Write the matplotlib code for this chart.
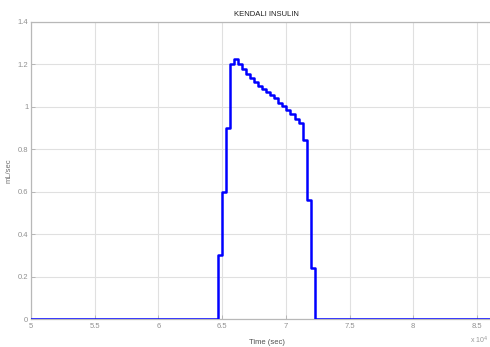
import matplotlib
matplotlib.use("Agg")
import matplotlib.pyplot as plt
import numpy as np

# Insulin infusion rate (mL/sec), zero-order hold samples; time in units of 1e4 s
t_start = 5.0
t_end = 8.7
pulse_start = 6.468
sample_dt = 0.0316
pulse_values = [0.30, 0.60, 0.90, 1.20, 1.225, 1.20, 1.18, 1.155, 1.135, 1.115,
                1.10, 1.085, 1.07, 1.055, 1.04, 1.02, 1.005, 0.985, 0.965, 0.945,
                0.925, 0.845, 0.56, 0.24, 0.0]

x_ticks = [5, 5.5, 6, 6.5, 7, 7.5, 8, 8.5]
x_tick_labels = ["5", "5.5", "6", "6.5", "7", "7.5", "8", "8.5"]
y_ticks = [0, 0.2, 0.4, 0.6, 0.8, 1.0, 1.2, 1.4]
y_tick_labels = ["0", "0.2", "0.4", "0.6", "0.8", "1", "1.2", "1.4"]

pulse_times = pulse_start + sample_dt * np.arange(len(pulse_values))
times = np.concatenate([[t_start], pulse_times, [t_end]])
values = np.concatenate([[0.0], pulse_values, [0.0]])

plt.rcParams['font.family'] = ['Liberation Sans', 'DejaVu Sans']

W, H = 490, 347
fig = plt.figure(figsize=(W / 100, H / 100), dpi=100)
fig.patch.set_facecolor("white")

px_per_unit = 127.4
ax_left = 31
ax_bottom = 319
ax_top = 22
ax_width = (t_end - t_start) * px_per_unit
ax = fig.add_axes([ax_left / W, (H - ax_bottom) / H, ax_width / W, (ax_bottom - ax_top) / H])

ax.step(times, values, where="post", color="#0000ff", linewidth=1.8, zorder=3)

ax.set_xlim(t_start, t_end)
ax.set_ylim(0, 1.4)
ax.set_xticks(x_ticks)
ax.set_xticklabels(x_tick_labels)
ax.set_yticks(y_ticks)
ax.set_yticklabels(y_tick_labels)

ax.grid(True, color="#e0e0e0", linewidth=0.8)
ax.set_axisbelow(True)
for s in ax.spines.values():
    s.set_color("#b8b8b8")
    s.set_linewidth(0.9)
ax.tick_params(direction="in", length=3, width=0.6, color="#b0b0b0",
               labelsize=5.5, labelcolor="#909090", pad=2)
ax.tick_params(axis="x", pad=3)

ax.set_title("KENDALI INSULIN", fontsize=5.5, color="#202020", pad=4)
ax.set_xlabel("Time (sec)", fontsize=5.5, color="#505050", labelpad=6)
ax.set_ylabel("mL/sec", fontsize=5.5, color="#707070", labelpad=4)

fig.text(470 / W, 1 - 340 / H, "x 10$^4$", fontsize=5, color="#9a9a9a",
         ha="left", va="center")

fig.savefig("out.png", dpi=100, facecolor="white")
